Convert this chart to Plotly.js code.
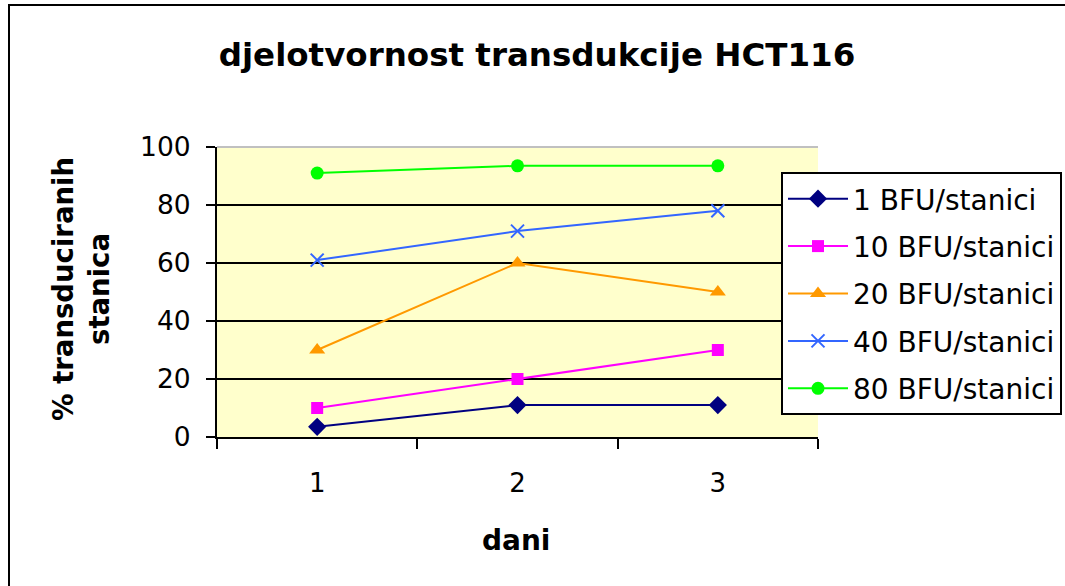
<!DOCTYPE html>
<html>
<head>
<meta charset="utf-8">
<script src="https://cdn.plot.ly/plotly-3.0.1.min.js"></script>
<style>html,body{margin:0;padding:0;background:#fff;}#chart{width:1065px;height:586px;}</style>
</head>
<body>
<div id="chart"></div>
<script>
const days = ['1', '2', '3'];
const seriesNames = ['1 BFU/stanici', '10 BFU/stanici', '20 BFU/stanici', '40 BFU/stanici', '80 BFU/stanici'];
const bfu1 = [3.5, 11, 11];
const bfu10 = [10, 20, 30];
const bfu20 = [30, 60, 50];
const bfu40 = [61, 71, 78];
const bfu80 = [91, 93.5, 93.5];
const yTicks = [0, 20, 40, 60, 80, 100];
const titleText = 'djelotvornost transdukcije HCT116';
const xTitle = 'dani';
const yTitle = '% transduciranih<br>stanica';

const colors = ['#000080', '#FF00FF', '#FF9900', '#3366FF', '#00FF00'];
const symbols = ['diamond', 'square', 'triangle-up', 'x-thin-open', 'circle'];
const sizes = [14, 12, 14, 13, 13];
const values = [bfu1, bfu10, bfu20, bfu40, bfu80];

const FONT = 'DejaVu Sans, Liberation Sans, Arial, sans-serif';

const traces = values.map((v, i) => ({
  type: 'scatter',
  mode: 'lines+markers',
  x: days,
  y: v,
  name: seriesNames[i],
  legendgroup: 'g' + i,
  line: {color: colors[i], width: 2},
  marker: {
    symbol: symbols[i],
    size: sizes[i],
    color: colors[i],
    line: {color: colors[i], width: i === 3 ? 2 : 0}
  },
  cliponaxis: false
}));

const layout = {
  width: 1065,
  height: 586,
  margin: {l: 217, r: 247, t: 147, b: 149, autoexpand: false},
  paper_bgcolor: '#ffffff',
  plot_bgcolor: '#FFFFCC',
  font: {family: FONT, color: '#000000'},
  showlegend: true,
  title: {
    text: titleText,
    font: {family: FONT, size: 32.5, weight: 700, color: '#000'},
    x: 537 / 1065,
    xanchor: 'center',
    y: 1 - 55 / 586,
    yanchor: 'middle'
  },
  xaxis: {
    type: 'category',
    range: [-0.5, 2.5],
    tickson: 'boundaries',
    ticks: 'outside',
    ticklen: 10,
    tickwidth: 2,
    tickcolor: '#000',
    showline: true,
    linecolor: '#000',
    linewidth: 2,
    showgrid: false,
    zeroline: false,
    automargin: false,
    tickfont: {family: FONT, size: 26, color: '#000'},
    ticklabelstandoff: 22,
    fixedrange: true
  },
  yaxis: {
    range: [0, 100],
    tickvals: yTicks,
    ticktext: yTicks.map(String),
    ticks: 'outside',
    ticklen: 9,
    tickwidth: 2,
    tickcolor: '#000',
    showline: true,
    linecolor: '#000',
    linewidth: 2,
    showgrid: true,
    gridcolor: '#000',
    gridwidth: 2,
    zeroline: false,
    automargin: false,
    tickfont: {family: FONT, size: 26.5, color: '#000'},
    ticklabelstandoff: 10,
    fixedrange: true
  },
  legend: {
    x: (781 - 217) / 601,
    y: (437 - 172) / 290,
    xanchor: 'left',
    yanchor: 'top',
    bgcolor: '#ffffff',
    bordercolor: '#000',
    borderwidth: 2,
    font: {family: FONT, size: 28, color: '#000'},
    traceorder: 'grouped',
    tracegroupgap: 8,
    itemwidth: 60
  },
  annotations: [
    {
      text: yTitle,
      xref: 'paper', yref: 'paper',
      x: (81 - 217) / 601, y: (437 - 289) / 290,
      xanchor: 'center', yanchor: 'middle',
      textangle: -90,
      showarrow: false,
      font: {family: FONT, size: 27.5, weight: 700, color: '#000'}
    },
    {
      text: xTitle,
      xref: 'paper', yref: 'paper',
      x: (516 - 217) / 601, y: (437 - 540) / 290,
      xanchor: 'center', yanchor: 'middle',
      showarrow: false,
      font: {family: FONT, size: 28, weight: 700, color: '#000'}
    }
  ],
  shapes: [
    {type: 'line', xref: 'paper', yref: 'paper', x0: 0, x1: 1, y0: 1, y1: 1,
     line: {color: '#C0C0C0', width: 2}, layer: 'above'},
    {type: 'line', xref: 'paper', yref: 'paper',
     x0: (9 - 217) / 601, x1: (9 - 217) / 601, y0: (437 - 4) / 290, y1: (437 - 620) / 290,
     line: {color: '#000', width: 2}},
    {type: 'line', xref: 'paper', yref: 'paper',
     x0: (8 - 217) / 601, x1: (1100 - 217) / 601, y0: (437 - 5) / 290, y1: (437 - 5) / 290,
     line: {color: '#000', width: 2}}
  ]
};

Plotly.newPlot('chart', traces, layout, {displayModeBar: false, staticPlot: true});
</script>
</body>
</html>
